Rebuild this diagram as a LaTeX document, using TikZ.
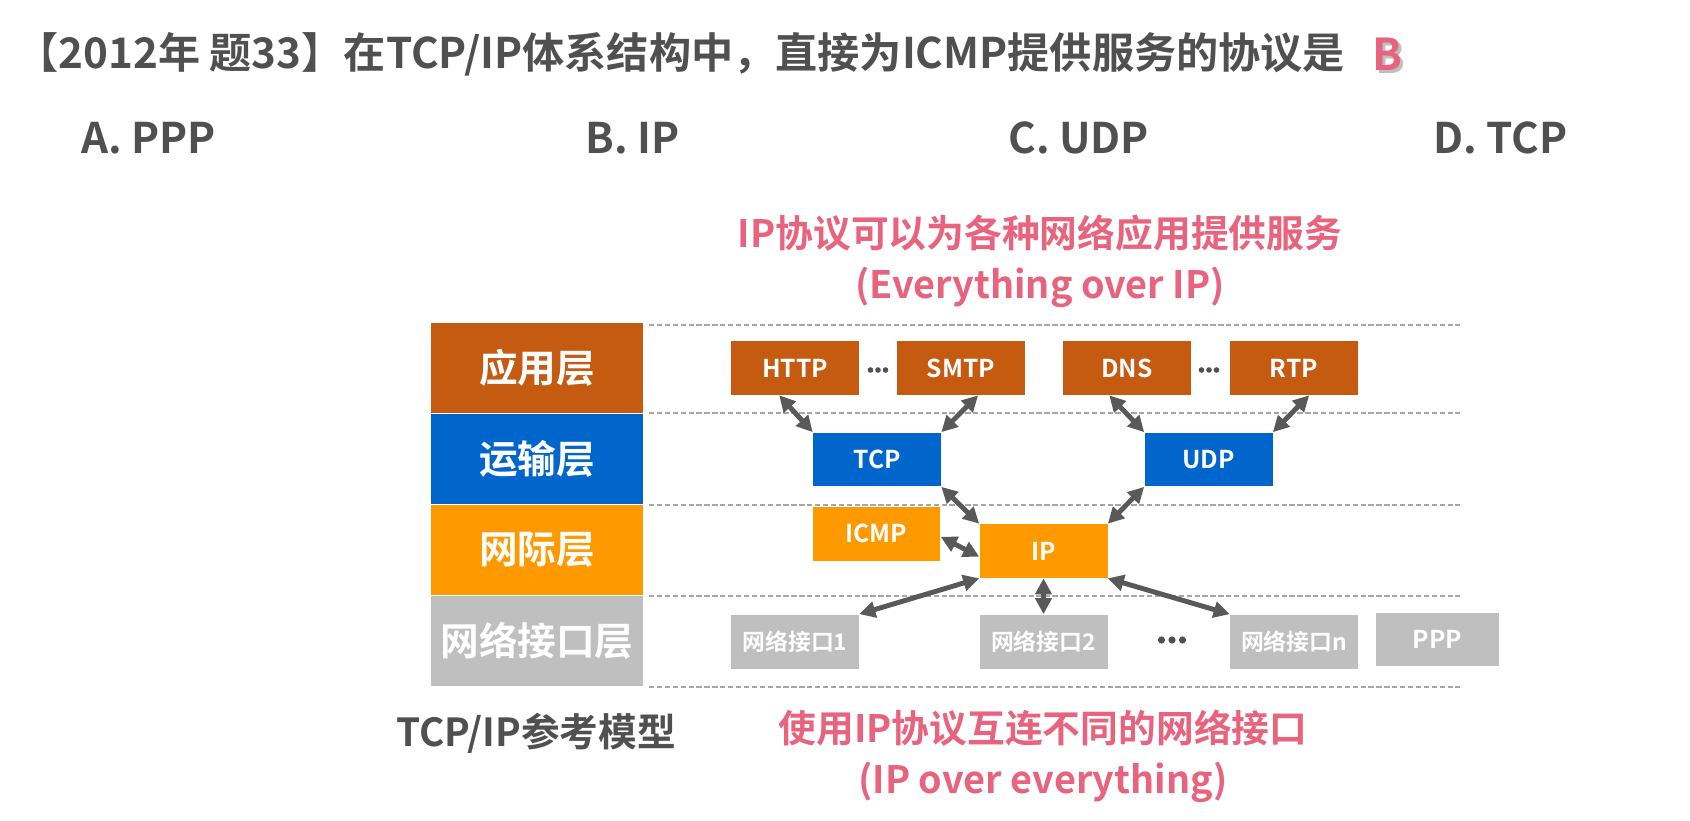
\documentclass[tikz,border=0pt]{standalone}
\usepackage{fontspec}
\setmainfont{Noto Sans CJK SC}[BoldFont=* Bold]
\usetikzlibrary{arrows.meta}

\definecolor{appcol}{HTML}{C55A11}
\definecolor{transcol}{HTML}{0066CC}
\definecolor{netcol}{HTML}{FF9900}
\definecolor{ifcol}{HTML}{BFBFBF}
\definecolor{textgray}{HTML}{505050}
\definecolor{pinktext}{HTML}{E8647E}
\definecolor{arrowgray}{HTML}{595959}
\definecolor{dashgray}{HTML}{A6A6A6}

\tikzset{
  layer/.style={fill=#1, minimum width=4.24cm, minimum height=1.82cm, inner sep=0pt,
    text=white, font=\fontsize{22}{26}\selectfont\bfseries},
  proto/.style={fill=#1, minimum width=2.56cm, minimum height=1.08cm, inner sep=0pt,
    text=white, font=\fontsize{14}{17}\selectfont\bfseries},
  iface/.style={proto=ifcol, font=\fontsize{13}{15}\selectfont\bfseries},
  option/.style={anchor=west, inner sep=0pt, text=textgray, font=\fontsize{24}{29}\selectfont\bfseries},
  link/.style={arrowgray, line width=2.8pt,
    {Triangle[length=0.32cm,width=0.32cm]}-{Triangle[length=0.32cm,width=0.32cm]}},
  layerline/.style={dashgray, dash pattern=on 3pt off 1.5pt, line width=0.6pt},
  pinknote/.style={text=pinktext, align=center, font=\fontsize{21.5}{29}\selectfont\bfseries},
}

\begin{document}
\begin{tikzpicture}[x=0.02cm, y=-0.02cm]

% Canvas
\useasboundingbox[fill=white] (0,0) rectangle (1690,821);

% Question and options
\node[anchor=west, inner sep=0pt, text=textgray, font=\fontsize{24}{29}\selectfont\bfseries] (question) at (16,54)
  {【2012年 题33】在TCP/IP体系结构中，直接为ICMP提供服务的协议是};
\node[text=black!25, font=\fontsize{25}{30}\selectfont\bfseries] (answershadow) at (1390,57) {B};
\node[text=pinktext, font=\fontsize{25}{30}\selectfont\bfseries] (answer) at (1387,54) {B};
\node[option] (optA) at (81,138) {A. PPP};
\node[option] (optB) at (585,138) {B. IP};
\node[option] (optC) at (1008,138) {C. UDP};
\node[option] (optD) at (1433,138) {D. TCP};

% Layer column
\node[layer=appcol] (app) at (537,368) {应用层};
\node[layer=transcol] (trans) at (537,459) {运输层};
\node[layer=netcol] (inet) at (537,550) {网际层};
\node[layer=ifcol] (netif) at (537,641) {网络接口层};
\node[text=textgray, font=\fontsize{22}{26}\selectfont\bfseries] (model) at (536,733) {TCP/IP参考模型};

% Layer borders
\foreach \y in {325,413,505,596,687}
  \draw[layerline] (649,\y) -- (1460,\y);

% Application protocols
\node[proto=appcol] (http) at (795,368) {HTTP};
\node[proto=appcol] (smtp) at (961,368) {SMTP};
\node[proto=appcol] (dns) at (1127,368) {DNS};
\node[proto=appcol] (rtp) at (1294,368) {RTP};

% Transport and internet protocols
\node[proto=transcol] (tcp) at (877,459.5) {TCP};
\node[proto=transcol] (udp) at (1208.5,459.5) {UDP};
\node[proto=netcol] (icmp) at (876.5,533.5) {ICMP};
\node[proto=netcol] (ip) at (1043.5,551) {IP};

% Network interfaces
\node[iface] (if1) at (795,641.5) {网络接口1};
\node[iface] (if2) at (1043.5,641.5) {网络接口2};
\node[iface] (ifn) at (1294,641.5) {网络接口n};
\node[iface, minimum width=2.46cm, minimum height=1.06cm, font=\fontsize{14}{17}\selectfont\bfseries] (ppp) at (1437.5,639.5) {PPP};

% Ellipsis dots
\coordinate (dotsA) at (878,370);
\coordinate (dotsB) at (1209,370);
\coordinate (dotsC) at (1172,640);
\foreach \c/\r/\s in {dotsA/2.8/7.5, dotsB/2.8/7.5, dotsC/3.6/10.5}
  \foreach \k in {-1,0,1}
    \fill[textgray] (\c) ++(\k*\s,0) circle[radius=\r];

% Links
\draw[link] (http.240) -- (tcp.north west);
\draw[link] (smtp.302) -- (tcp.north east);
\draw[link] (dns.237) -- (udp.north west);
\draw[link] (rtp.299) -- (udp.north east);
\draw[link] (tcp.south east) -- (ip.north west);
\draw[link] (udp.south west) -- (ip.north east);
\draw[link] (icmp.-3) -- (ip.185);
\draw[link] (ip.south west) -- (if1.north east);
\draw[link] (ip.south) -- (if2.north);
\draw[link] (ip.south east) -- (ifn.north west);

% Notes
\node[pinknote] (overip) at (1040,261) {IP协议可以为各种网络应用提供服务\\(Everything over IP)};
\node[pinknote] (overall) at (1043,756) {使用IP协议互连不同的网络接口\\(IP over everything)};

\end{tikzpicture}
\end{document}
